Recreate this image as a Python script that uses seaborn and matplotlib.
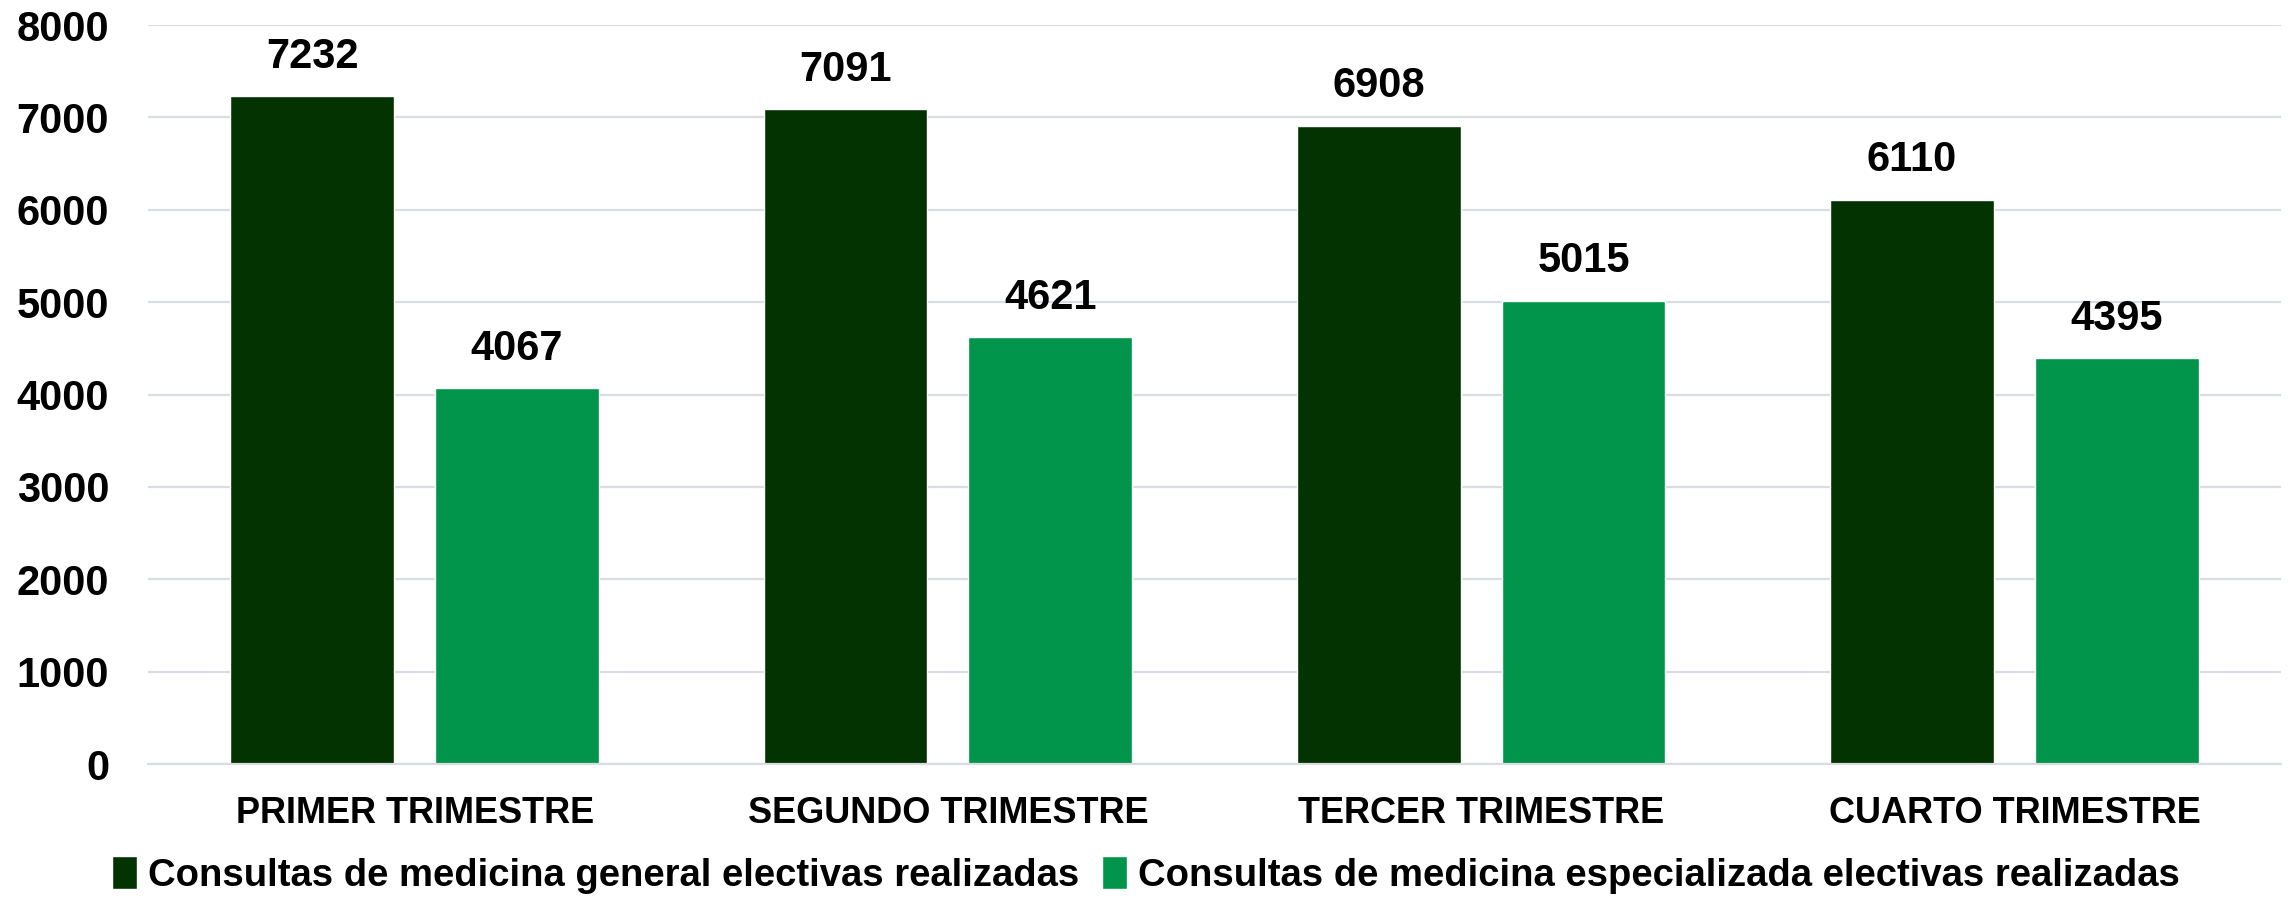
import numpy as np
import pandas as pd
import matplotlib.pyplot as plt
import seaborn as sns

# Datos del gráfico
trimestres = ['PRIMER TRIMESTRE', 'SEGUNDO TRIMESTRE', 'TERCER TRIMESTRE', 'CUARTO TRIMESTRE']
series = ['Consultas de medicina general electivas realizadas',
          'Consultas de medicina especializada electivas realizadas']
general = [7232, 7091, 6908, 6110]
especializada = [4067, 4621, 5015, 4395]
y_ticks = [0, 1000, 2000, 3000, 4000, 5000, 6000, 7000, 8000]

colores = ['#023301', '#00954A']

df = pd.DataFrame({
    'trimestre': trimestres * 2,
    'serie': [series[0]] * 4 + [series[1]] * 4,
    'valor': general + especializada,
})

sns.set_theme(style='white')
plt.rcParams['font.family'] = ['Liberation Sans', 'DejaVu Sans']
plt.rcParams['font.weight'] = 'bold'
plt.rcParams['text.color'] = 'black'
plt.rcParams['xtick.color'] = 'black'
plt.rcParams['ytick.color'] = 'black'

fig = plt.figure(figsize=(22.92, 9), dpi=100)
ax = fig.add_axes([0.0646, 0.1511, 0.9306, 0.8211])

sns.barplot(data=df, x='trimestre', y='valor', hue='serie', palette=colores,
            width=0.768, gap=0.2, saturation=1, ax=ax, legend=True)

ax.set_ylim(0, 8000)
ax.set_xlim(-0.5, 3.5)
ax.set_yticks(y_ticks)
ax.set_yticklabels([str(t) for t in y_ticks], fontsize=30, fontweight='bold')
ax.set_xticks(range(4))
ax.set_xticklabels(trimestres, fontsize=26, fontweight='bold')
ax.tick_params(axis='y', length=0, pad=28)
ax.tick_params(axis='x', length=0, pad=23)
ax.set_xlabel('')
ax.set_ylabel('')

ax.yaxis.grid(True, color='#D9DCE2', linewidth=1.6)
ax.set_axisbelow(True)
for s in ['left', 'right', 'top']:
    ax.spines[s].set_visible(False)
ax.spines['bottom'].set_color('#D9DCE2')
ax.spines['bottom'].set_linewidth(1.6)

for cont in ax.containers:
    ax.bar_label(cont, fmt='%d', padding=14, fontsize=30, fontweight='bold')

handles, labels = ax.get_legend_handles_labels()
ax.get_legend().remove()
fig.legend(handles, labels, loc='center', bbox_to_anchor=(0.5, 0.028),
           ncol=2, frameon=False, handlelength=0.65, handleheight=0.95,
           handletextpad=0.3, columnspacing=0.6, prop={'weight': 'bold', 'size': 27.5})

fig.savefig('out.png', dpi=100)
